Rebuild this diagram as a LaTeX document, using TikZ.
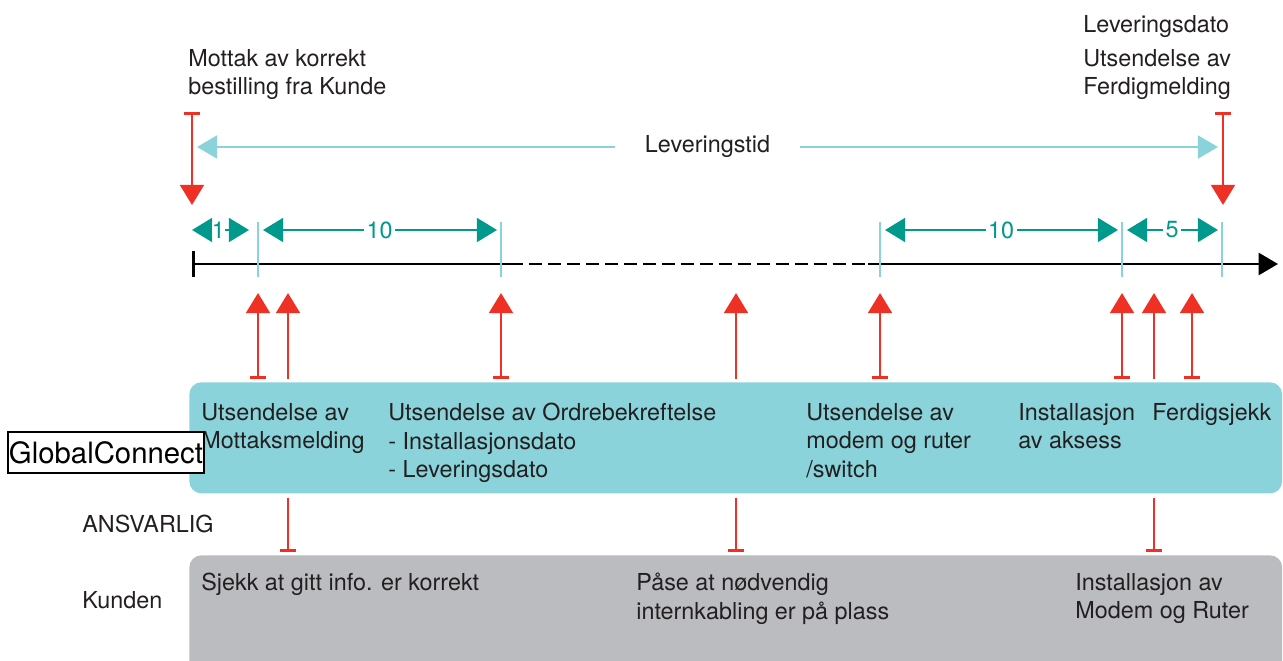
\documentclass[tikz,border=0pt]{standalone}
\usepackage{fontspec}
\setmainfont{TeX Gyre Heros}
\usetikzlibrary{arrows.meta}
\definecolor{gcred}{HTML}{EE3124}
\definecolor{gcteal}{HTML}{00998C}
\definecolor{gclight}{HTML}{8AD3DB}
\definecolor{gcgrey}{HTML}{BBBCC0}
\definecolor{gctext}{HTML}{231F20}

\begin{document}
\begin{tikzpicture}[x=0.02cm,y=-0.02cm,
  every node/.style={font=\fontsize{13.3}{16.2}\selectfont,text=gctext,inner sep=0pt},
  txt/.style={anchor=north west,align=left},
  lane/.style={anchor=north west,rounded corners=0.24cm,minimum width=21.86cm},
  evt/.style={draw=gcred,line width=1.5pt,-{Triangle[width=13.6pt,length=11.5pt]}},
  evtbar/.style={draw=gcred,line width=1.5pt,{Bar[width=9pt]}-{Triangle[width=13.6pt,length=11.5pt]}},
  downbar/.style={draw=gcred,line width=1.5pt,-{Bar[width=9pt]},shorten <=0.08cm,shorten >=0.06cm},
  dim/.style={draw=gcteal,line width=1.5pt,{Triangle[width=13.6pt,length=11.5pt]}-{Triangle[width=13.6pt,length=11.5pt]},shorten <=0.1cm,shorten >=0.08cm},
  dimlbl/.style={fill=white,text=gcteal,inner xsep=0.05cm},
  tick/.style={draw=gclight,line width=1.5pt},
  lev/.style={draw=gclight,line width=1.7pt,{Triangle[width=13pt,length=11.5pt]}-{Triangle[width=13pt,length=11.5pt]}},
  tline/.style={draw=black,line width=1.6pt}]
\useasboundingbox (0,0) rectangle (1283,661);

\node[lane,fill=gclight,minimum height=2.22cm] (gcbox) at (189,382) {};
\node[lane,fill=gcgrey,minimum height=2.6cm] (kdbox) at (189,555) {};

\node[txt] (mottak) at (188,49) {Mottak av korrekt\\bestilling fra Kunde};
\node[txt] (levdato) at (1083,15) {Leveringsdato};
\node[txt] (ferdigmld) at (1083,49) {Utsendelse av\\Ferdigmelding};

\coordinate (lvl) at (197,147);
\coordinate (lvr) at (1218,147);
\path[lev] (lvl) -- node[fill=white,inner xsep=0.6cm] (levtid) {Leveringstid} (lvr);

\coordinate (mtop) at (192,112);
\coordinate (mbot) at (192,205);
\coordinate (ftop) at (1223,112);
\coordinate (fbot) at (1223,205);
\path[evtbar] (mtop) -- (mbot);
\path[evtbar] (ftop) -- (fbot);

\coordinate (tl0) at (192,264);
\coordinate (tl1) at (510,264);
\coordinate (tl2) at (868,264);
\coordinate (tl3) at (1278,264);
\path[tline,{Bar[width=15pt]}-] (tl0) -- (tl1);
\path[tline,dash pattern=on 7.4pt off 3.4pt] (tl1) -- (tl2);
\path[tline,-{Triangle[width=12.5pt,length=11pt]}] (tl2) -- (tl3);

\foreach \x in {258,501,880,1122,1222}
  \path[tick] (\x,222) -- (\x,277);

\foreach \x/\n in {192/0,258/1,501/2,880/3,1122/4,1222/5}
  \coordinate (k\n) at (\x,230);
\path[dim,shorten <=0pt,shorten >=0.18cm] (k0) -- node[dimlbl,pos=0.4,inner xsep=0pt] {1} (k1);
\path[dim] (k1) -- node[dimlbl] {10} (k2);
\path[dim] (k3) -- node[dimlbl] {10} (k4);
\path[dim] (k4) -- node[dimlbl] {5} (k5);

\foreach \x/\n in {258/a,288/b,501/c,736/d,880/e,1122/f,1154/g,1192/h}
  \coordinate (ev\n) at (\x,293);
\path[evtbar,shorten <=0.06cm] (eva |- gcbox.north) -- (eva);
\path[evt,shorten <=0.06cm] (evb |- gcbox.north) -- (evb);
\path[evtbar,shorten <=0.06cm] (evc |- gcbox.north) -- (evc);
\path[evt,shorten <=0.06cm] (evd |- gcbox.north) -- (evd);
\path[evtbar,shorten <=0.06cm] (eve |- gcbox.north) -- (eve);
\path[evtbar,shorten <=0.06cm] (evf |- gcbox.north) -- (evf);
\path[evt,shorten <=0.06cm] (evg |- gcbox.north) -- (evg);
\path[evtbar,shorten <=0.06cm] (evh |- gcbox.north) -- (evh);

\path[downbar] (evb |- gcbox.south) -- (evb |- kdbox.north);
\path[downbar] (evd |- gcbox.south) -- (evd |- kdbox.north);
\path[downbar] (evg |- gcbox.south) -- (evg |- kdbox.north);

\node[txt] (mottaks) at (201,403) {Utsendelse av\\Mottaksmelding};
\node[txt] (ordre) at (388,403) {Utsendelse av Ordrebekreftelse\\- Installasjonsdato\\- Leveringsdato};
\node[txt] (modem) at (806,403) {Utsendelse av\\modem og ruter\\/switch};
\node[txt] (aksess) at (1018,403) {Installasjon\\av aksess};
\node[txt] (sjekk) at (1152,403) {Ferdigsjekk};

\node[draw=black,fill=white,line width=0.6pt,minimum width=3.92cm,minimum height=0.82cm,
  font=\fontsize{16.7}{20}\selectfont,text=black] (gc) at (106,452.5) {GlobalConnect};

\node[txt] (ansv) at (82,515) {ANSVARLIG};
\node[txt] (kunden) at (82,591) {Kunden};

\node[txt] (info) at (201,573) {Sjekk at gitt info. er korrekt};
\node[txt] (kabling) at (636,573) {Påse at nødvendig\\internkabling er på plass};
\node[txt] (ruter) at (1075,573) {Installasjon av\\Modem og Ruter};
\end{tikzpicture}
\end{document}
